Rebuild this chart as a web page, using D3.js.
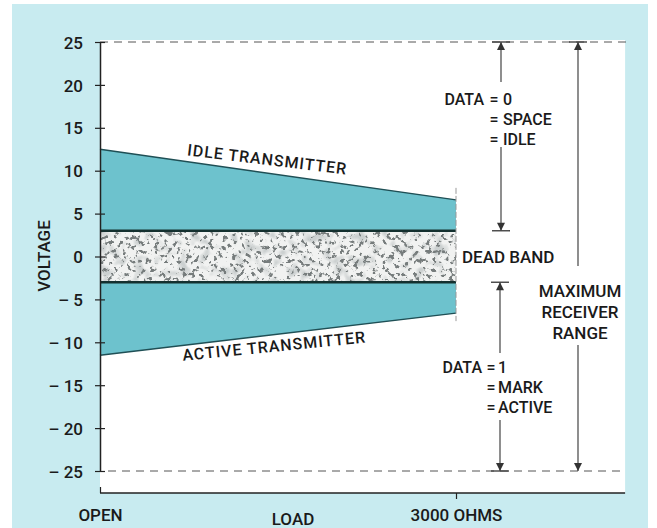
<!DOCTYPE html>
<html>
<head>
<meta charset="utf-8">
<script src="https://cdn.jsdelivr.net/npm/d3@7"></script>
<style>
  body { margin: 0; background: #fff; }
  svg text { font-family: Roboto, "Liberation Sans", Arial, sans-serif; font-weight: 500; fill: #1a1a1a; }
</style>
</head>
<body>
<svg width="657" height="528"></svg>
<script>
// values
const voltTicks = [25, 20, 15, 10, 5, 0, -5, -10, -15, -20, -25];
const loadLabels = ["OPEN", "3000 OHMS"];
const loadPos = [0, 1];              // open circuit .. 3000 ohm load
const idleTop = [12.5, 6.6];         // idle transmitter output
const idleBottom = [3, 3];
const activeTop = [-3, -3];
const activeBottom = [-11.5, -6.6];  // active transmitter output
const deadBand = [3, -3];
const receiverRange = [25, -25];
const data0Text = ["0", "SPACE", "IDLE"];
const data1Text = ["1", "MARK", "ACTIVE"];
const rangeText = ["MAXIMUM", "RECEIVER", "RANGE"];

const svg = d3.select("svg");
const fs = 17;

const x = d3.scaleLinear().domain([0, 1]).range([100, 456]);
const y = d3.scaleLinear().domain([-25, 25]).range([471, 42]);

// panel backgrounds
svg.append("rect").attr("x", 12).attr("y", 4).attr("width", 636).attr("height", 524)
  .attr("fill", "#c8ebf0");
svg.append("rect").attr("x", x(0)).attr("y", 40).attr("width", x(1.475) - x(0)).attr("height", 453)
  .attr("fill", "#fff");

// speckle texture for the dead band
const defs = svg.append("defs");
const f = defs.append("filter").attr("id", "speckle")
  .attr("x", 0).attr("y", 0).attr("width", "100%").attr("height", "100%");
f.append("feTurbulence").attr("type", "fractalNoise").attr("baseFrequency", 0.22)
  .attr("numOctaves", 3).attr("seed", 7).attr("result", "noise");
f.append("feColorMatrix").attr("in", "noise").attr("type", "matrix")
  .attr("values", "0 0 0 0 0.18  0 0 0 0 0.2  0 0 0 0 0.2  -10 0 0 0 4.3")
  .attr("result", "dots");
f.append("feComposite").attr("in", "dots").attr("in2", "SourceGraphic").attr("operator", "in");

const f2 = defs.append("filter").attr("id", "mottle")
  .attr("x", 0).attr("y", 0).attr("width", "100%").attr("height", "100%");
f2.append("feTurbulence").attr("type", "fractalNoise").attr("baseFrequency", 0.09)
  .attr("numOctaves", 2).attr("seed", 3).attr("result", "noise");
f2.append("feColorMatrix").attr("in", "noise").attr("type", "matrix")
  .attr("values", "0 0 0 0 0.6  0 0 0 0 0.63  0 0 0 0 0.63  -4 0 0 0 2.0")
  .attr("result", "dots");
f2.append("feComposite").attr("in", "dots").attr("in2", "SourceGraphic").attr("operator", "in");

// bands
const pts = loadPos.map((d, i) => ({ x: d, i }));

const area = (top, bot) => d3.area()
  .x(d => x(d.x))
  .y0(d => y(bot[d.i]))
  .y1(d => y(top[d.i]));

svg.append("path").datum(pts).attr("d", area(idleTop, idleBottom)).attr("fill", "#6dc2cd");
svg.append("path").datum(pts).attr("d", area(activeTop, activeBottom)).attr("fill", "#6dc2cd");

const deadArea = area([deadBand[0], deadBand[0]], [deadBand[1], deadBand[1]]);
svg.append("path").datum(pts).attr("d", deadArea).attr("fill", "#f1f2f1");
svg.append("path").datum(pts).attr("d", deadArea).attr("fill", "#000").attr("filter", "url(#mottle)");
svg.append("path").datum(pts).attr("d", deadArea).attr("fill", "#000").attr("filter", "url(#speckle)");

const line = vals => d3.line().x(d => x(d.x)).y(d => y(vals[d.i]));
svg.append("path").datum(pts).attr("d", line(idleTop)).attr("fill", "none")
  .attr("stroke", "#1f4f55").attr("stroke-width", 1.5);
svg.append("path").datum(pts).attr("d", line(activeBottom)).attr("fill", "none")
  .attr("stroke", "#1f4f55").attr("stroke-width", 1.5);
[deadBand[0], deadBand[1]].forEach(v => {
  svg.append("line").attr("x1", x(0)).attr("x2", x(1)).attr("y1", y(v)).attr("y2", y(v))
    .attr("stroke", "#14302f").attr("stroke-width", 2.5);
});

// right edge of the measured bands
svg.append("line").attr("x1", x(1)).attr("x2", x(1))
  .attr("y1", y(idleTop[1]) - 12).attr("y2", y(activeBottom[1]) + 8)
  .attr("stroke", "#999").attr("stroke-width", 1).attr("stroke-dasharray", "6,2");

// receiver range limits
receiverRange.forEach((v, i) => {
  svg.append("line").attr("x1", i ? 108 : x(0)).attr("x2", i ? 626 : 632)
    .attr("y1", y(v)).attr("y2", y(v))
    .attr("stroke", "#555").attr("stroke-width", 1).attr("stroke-dasharray", "8,6");
});

// y axis
const yAxis = d3.axisLeft(y).tickValues(voltTicks).tickSizeInner(5).tickSizeOuter(0).tickPadding(12)
  .tickFormat(d => d < 0 ? "\u2013 " + Math.abs(d) : d);
const gy = svg.append("g").attr("transform", `translate(${x(0)},0)`).call(yAxis);
gy.select(".domain").attr("stroke", "#222").attr("stroke-width", 1.5);
gy.selectAll(".tick line").attr("x1", -5).attr("x2", 5).attr("stroke", "#222").attr("stroke-width", 1.2);
gy.selectAll(".tick text").attr("font-size", fs).attr("font-family", null)
  .attr("fill", "#1a1a1a").attr("dy", "0.36em");

svg.append("text").attr("transform", `translate(50,256) rotate(-90)`)
  .attr("text-anchor", "middle").attr("font-size", fs).text("VOLTAGE");

// x axis
const xAxis = d3.axisBottom(x).tickValues(loadPos).tickSizeInner(6).tickSizeOuter(0).tickPadding(7)
  .tickFormat((d, i) => loadLabels[i]);
const gx = svg.append("g").attr("transform", "translate(0,493)").call(xAxis);
gx.select(".domain").attr("d", `M${x(0)},0H${x(1.475)}`).attr("stroke", "#222").attr("stroke-width", 1.5);
gx.selectAll(".tick line").attr("stroke", "#222").attr("stroke-width", 1.2)
  .attr("y2", (d, i) => i ? 6 : -6);
gx.selectAll(".tick text").attr("font-size", fs).attr("font-family", null)
  .attr("fill", "#1a1a1a").attr("dy", "0.9em");

svg.append("text").attr("x", 293).attr("y", 525).attr("text-anchor", "middle")
  .attr("font-size", fs).text("LOAD");

// labels along the band edges
function edgeLabel(vals, frac, offset, txt) {
  const x0 = x(0), y0 = y(vals[0]), x1 = x(1), y1 = y(vals[1]);
  const ang = Math.atan2(y1 - y0, x1 - x0);
  const px = x0 + (x1 - x0) * frac, py = y0 + (y1 - y0) * frac;
  svg.append("text")
    .attr("transform", `translate(${px - Math.sin(ang) * offset},${py + Math.cos(ang) * offset}) rotate(${ang * 180 / Math.PI * 0.85})`)
    .attr("text-anchor", "middle").attr("font-size", 16).attr("font-weight", 400).attr("letter-spacing", 1)
    .text(txt);
}
edgeLabel(idleTop, 0.465, -8, "IDLE TRANSMITTER");
edgeLabel(activeBottom, 0.485, 17, "ACTIVE TRANSMITTER");

svg.append("text").attr("x", 462).attr("y", y(0) + 6).attr("font-size", fs).text("DEAD BAND");

// dimension arrows
defs.append("marker").attr("id", "arr").attr("viewBox", "0 0 10 10")
  .attr("refX", 10).attr("refY", 5).attr("markerWidth", 12).attr("markerHeight", 8)
  .attr("markerUnits", "userSpaceOnUse").attr("orient", "auto")
  .append("path").attr("d", "M0,0L10,5L0,10z").attr("fill", "#333");

function dimArrow(ax, top, bot, gapTop, gapBot, bars) {
  const g = svg.append("g").attr("stroke", "#444").attr("stroke-width", 1.2);
  g.append("line").attr("x1", ax).attr("x2", ax).attr("y1", gapTop).attr("y2", y(top))
    .attr("marker-end", "url(#arr)");
  g.append("line").attr("x1", ax).attr("x2", ax).attr("y1", gapBot).attr("y2", y(bot))
    .attr("marker-end", "url(#arr)");
  bars.forEach(v => g.append("line").attr("x1", ax - 9).attr("x2", ax + 9)
    .attr("y1", y(v)).attr("y2", y(v)).attr("stroke-width", 1.4));
}
dimArrow(501, receiverRange[0], deadBand[0], 82, 147, [receiverRange[0], deadBand[0]]);
dimArrow(500, deadBand[1], receiverRange[1], 353, 420, [deadBand[1], receiverRange[1]]);
dimArrow(578, receiverRange[0], receiverRange[1], 266, 345, [receiverRange[0]]);

function dataLabel(words, eqX, wordX, dataEnd, base0) {
  const lfs = 16, step = 20;
  svg.append("text").attr("x", dataEnd).attr("y", base0).attr("text-anchor", "end")
    .attr("font-size", lfs).text("DATA");
  words.forEach((w, i) => {
    svg.append("text").attr("x", eqX).attr("y", base0 + i * step).attr("text-anchor", "middle")
      .attr("font-size", lfs).attr("font-weight", 400).attr("fill", "#777").text("=");
    svg.append("text").attr("x", wordX).attr("y", base0 + i * step).attr("font-size", lfs).text(w);
  });
}
dataLabel(data0Text, 494, 503, 484, 105);
dataLabel(data1Text, 491, 498, 482, 373);

svg.selectAll(null).data(rangeText).join("text")
  .attr("x", 580).attr("y", (d, i) => 297 + i * 21)
  .attr("text-anchor", "middle").attr("font-size", fs).text(d => d);
</script>
</body>
</html>
